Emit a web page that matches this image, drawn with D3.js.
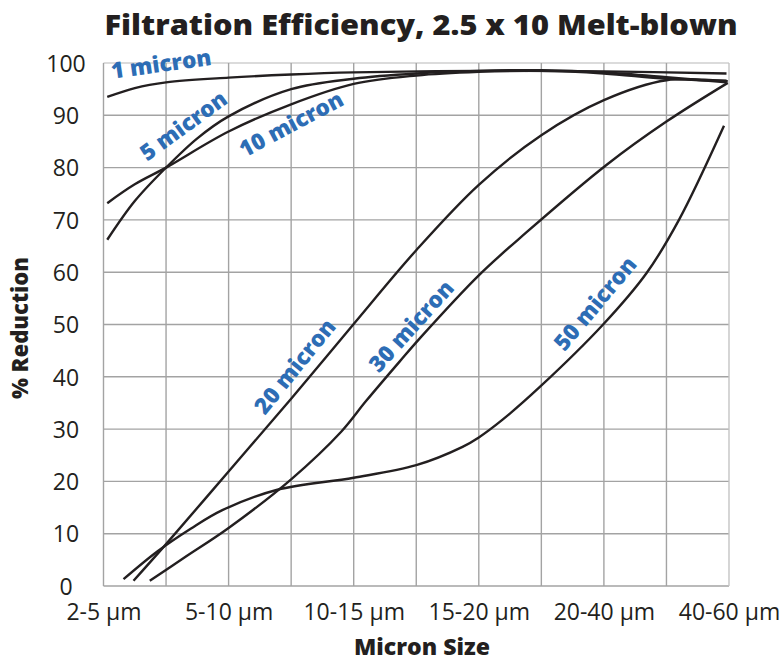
<!DOCTYPE html>
<html>
<head>
<meta charset="utf-8">
<script src="https://cdn.jsdelivr.net/npm/d3@7"></script>
<style>
  html, body { margin: 0; padding: 0; background: #fff; }
  svg { display: block; }
</style>
</head>
<body>
<svg id="chart" width="783" height="661"></svg>
<script>
// ---- Data ----
const categories = ["2-5 µm", "5-10 µm", "10-15 µm", "15-20 µm", "20-40 µm", "40-60 µm"];
const yTicks = [0, 10, 20, 30, 40, 50, 60, 70, 80, 90, 100];
const seriesNames = ["1 micron", "5 micron", "10 micron", "20 micron", "30 micron", "50 micron"];

// [category position, % reduction]
const micron1 = [[0.03,93.5],[0.25,95.2],[0.5,96.3],[1,97.2],[1.5,97.8],[2,98.2],[3,98.5],[4,98.4],[4.98,98.0]];
const micron5 = [[0.03,66.2],[0.25,73.6],[0.5,80],[0.75,85.6],[1,89.8],[1.5,95.0],[2,97.0],[2.5,98.0],[3,98.5],[3.5,98.6],[4,98.2],[4.5,97.3],[4.98,96.3]];
const micron10 = [[0.03,73.2],[0.25,76.8],[0.5,80],[1,86.9],[1.5,92.1],[2,96.0],[2.5,97.6],[3,98.3],[3.5,98.5],[4,98.0],[4.5,97.0],[4.98,96.6]];
const micron20 = [[0.24,1.0],[0.5,8.0],[1.0,21.9],[1.5,35.8],[2.0,50.1],[2.5,64.2],[3.0,76.7],[3.5,86.2],[4.0,92.9],[4.5,96.7],[4.99,96.5]];
const micron30 = [[0.37,1.0],[0.65,5.5],[1.0,11.1],[1.5,20.4],[1.9,29.5],[2.1,35.4],[2.37,43.0],[2.53,47.4],[3.0,59.4],[3.38,67.6],[4.02,80.5],[4.5,88.8],[4.99,96.2]];
const micron50 = [[0.16,1.3],[0.43,6.6],[0.7,11.0],[0.95,14.5],[1.39,18.4],[2.0,20.7],[2.5,23.1],[2.87,26.6],[3.0,28.4],[3.19,31.8],[3.49,38.1],[3.99,49.9],[4.34,59.8],[4.6,70.0],[4.96,88.0]];

const seriesData = [micron1, micron5, micron10, micron20, micron30, micron50];

// ---- Layout ----
const svg = d3.select("#chart");
const plotL = 103.5, plotR = 729, plotT = 63, plotB = 586;
const x = d3.scaleLinear().domain([0, categories.length - 1]).range([plotL, plotR]);
const y = d3.scaleLinear().domain([0, 100]).range([plotB, plotT]);

const ink = "#231f20";
const blue = "#2d6db5";

// grid
const grid = svg.append("g");
grid.selectAll("line.h").data(yTicks).join("line")
  .attr("x1", plotL).attr("x2", plotR)
  .attr("y1", d => y(d)).attr("y2", d => y(d))
  .attr("stroke", d => d === 100 ? "#cfcfcf" : "#a3a3a3").attr("stroke-width", 1.4);
const vGrid = d3.range(0, categories.length - 0.99, 0.5);
grid.selectAll("line.v").data(vGrid).join("line")
  .attr("x1", d => x(d)).attr("x2", d => x(d))
  .attr("y1", plotT).attr("y2", plotB)
  .attr("stroke", (d, i) => (i === vGrid.length - 1) ? "#c4c4c4" : "#a3a3a3").attr("stroke-width", 1.4);

// y tick labels
const yAxis = d3.axisLeft(y).tickValues(yTicks).tickSize(0).tickPadding(0);
const gy = svg.append("g").attr("transform", "translate(66,0)").call(yAxis);
gy.select(".domain").remove();
gy.selectAll("text").attr("text-anchor", "middle").attr("dy", "0.36em")
  .attr("font-family", "'Open Sans', sans-serif").attr("font-size", 23).attr("fill", ink);

// x tick labels
const xAxis = d3.axisBottom(x).tickValues(d3.range(categories.length)).tickFormat(i => categories[i]).tickSize(0).tickPadding(0);
const gx = svg.append("g").attr("transform", `translate(0,${plotB + 26})`).call(xAxis);
gx.select(".domain").remove();
gx.selectAll("text").attr("dy", "0.36em")
  .attr("font-family", "'Open Sans', sans-serif").attr("font-size", 23).attr("fill", ink);

// lines
const line = d3.line().x(d => x(d[0])).y(d => y(d[1])).curve(d3.curveCatmullRom.alpha(0.5));
svg.append("g").selectAll("path").data(seriesData).join("path")
  .attr("d", line).attr("fill", "none").attr("stroke", ink)
  .attr("stroke-width", 2.4).attr("stroke-linecap", "butt");

// series labels (placement)
const labelPlacement = [
  { c: 0.46, v: 99.8, a: -8 },
  { c: 0.64, v: 88.0, a: -36 },
  { c: 1.50, v: 88.3, a: -28 },
  { c: 1.53, v: 42.0, a: -51 },
  { c: 2.46, v: 49.7, a: -48 },
  { c: 3.93, v: 54.0, a: -50 }
];
svg.append("g").selectAll("text").data(seriesNames).join("text")
  .attr("transform", (d, i) => `translate(${x(labelPlacement[i].c)},${y(labelPlacement[i].v)}) rotate(${labelPlacement[i].a})`)
  .attr("text-anchor", "middle").attr("dy", "0.35em")
  .attr("font-family", "'Open Sans', sans-serif").attr("font-weight", 800)
  .attr("font-size", 22.5).attr("fill", blue)
  .text(d => d);

// title
svg.append("text").attr("x", 421).attr("y", 35).attr("text-anchor", "middle")
  .attr("font-family", "'Open Sans', sans-serif").attr("font-weight", 800).attr("font-size", 29)
  .attr("fill", ink).attr("textLength", 633).attr("lengthAdjust", "spacingAndGlyphs")
  .text("Filtration Efficiency, 2.5 x 10 Melt-blown");

// axis titles
svg.append("text").attr("x", 422).attr("y", 655).attr("text-anchor", "middle")
  .attr("font-family", "'Open Sans', sans-serif").attr("font-weight", 800).attr("font-size", 22)
  .attr("fill", ink).attr("textLength", 136).attr("lengthAdjust", "spacingAndGlyphs")
  .text("Micron Size");
svg.append("text").attr("transform", "translate(28,328) rotate(-90)").attr("text-anchor", "middle")
  .attr("font-family", "'Open Sans', sans-serif").attr("font-weight", 800).attr("font-size", 22)
  .attr("fill", ink).attr("textLength", 142).attr("lengthAdjust", "spacingAndGlyphs")
  .text("% Reduction");
</script>
</body>
</html>
